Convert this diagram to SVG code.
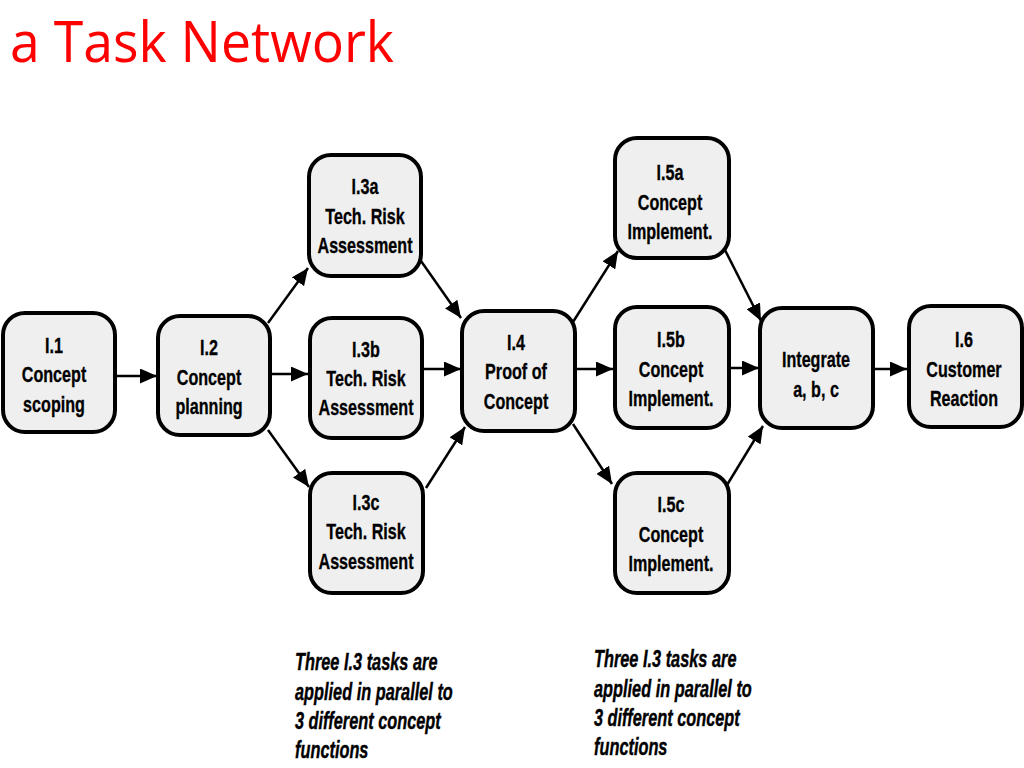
<svg xmlns="http://www.w3.org/2000/svg" width="1024" height="768" viewBox="0 0 1024 768">
<style>
.title{font-family:"Open Sans","Liberation Sans",sans-serif;font-size:56px;fill:#ff0000}
.box{fill:#efefef;stroke:#000;stroke-width:4}
.lbl{font-family:"Liberation Sans","Arial",sans-serif;font-weight:bold;font-size:21.5px;fill:#000;stroke:#000;stroke-width:0.3;text-anchor:middle}
.note{font-family:"Liberation Sans","Arial",sans-serif;font-weight:bold;font-style:italic;font-size:23px;fill:#000;stroke:#000;stroke-width:0.4}
.edge{stroke:#000;stroke-width:2.5;fill:none;marker-end:url(#ah)}
</style>
<defs>
<marker id="ah" viewBox="0 0 17 15" refX="17" refY="7.5" markerWidth="17" markerHeight="15" markerUnits="userSpaceOnUse" orient="auto">
<path d="M0,0 L17,7.5 L0,15 Z" fill="#000"/>
</marker>
</defs>
<rect width="1024" height="768" fill="#fff"/>
<text class="title" x="10" y="62" textLength="384" lengthAdjust="spacingAndGlyphs">a Task Network</text>

<g id="connectors">
<line class="edge" x1="117" y1="376" x2="157" y2="376"/>
<line class="edge" x1="268" y1="323" x2="308" y2="268"/>
<line class="edge" x1="272" y1="374" x2="308" y2="374"/>
<line class="edge" x1="268" y1="430" x2="309" y2="487"/>
<line class="edge" x1="421" y1="261" x2="461" y2="318"/>
<line class="edge" x1="424" y1="369" x2="461" y2="369"/>
<line class="edge" x1="426" y1="488" x2="465" y2="427"/>
<line class="edge" x1="573" y1="322" x2="618" y2="251"/>
<line class="edge" x1="577" y1="369" x2="613" y2="369"/>
<line class="edge" x1="573" y1="424" x2="612" y2="484"/>
<line class="edge" x1="725" y1="250" x2="761" y2="321"/>
<line class="edge" x1="730" y1="368" x2="759" y2="368"/>
<line class="edge" x1="727" y1="485" x2="763" y2="426"/>
<line class="edge" x1="875" y1="369" x2="907" y2="369"/>
</g>

<g id="n_i1">
<rect class="box" x="3" y="313" width="112" height="119" rx="22"/>
<text class="lbl" transform="translate(54 0) scale(0.75 1)"><tspan x="0" y="353">I.1</tspan><tspan x="0" y="382">Concept</tspan><tspan x="0" y="412">scoping</tspan></text>
</g>
<g id="n_i2">
<rect class="box" x="158" y="316" width="112" height="119" rx="22"/>
<text class="lbl" transform="translate(209 0) scale(0.75 1)"><tspan x="0" y="355">I.2</tspan><tspan x="0" y="385">Concept</tspan><tspan x="0" y="414">planning</tspan></text>
</g>
<g id="n_i3a">
<rect class="box" x="309" y="155" width="112" height="121" rx="22"/>
<text class="lbl" transform="translate(365 0) scale(0.75 1)"><tspan x="0" y="194">I.3a</tspan><tspan x="0" y="224">Tech. Risk</tspan><tspan x="0" y="253">Assessment</tspan></text>
</g>
<g id="n_i3b">
<rect class="box" x="310" y="318" width="112" height="120" rx="22"/>
<text class="lbl" transform="translate(366 0) scale(0.75 1)"><tspan x="0" y="357">I.3b</tspan><tspan x="0" y="386">Tech. Risk</tspan><tspan x="0" y="415">Assessment</tspan></text>
</g>
<g id="n_i3c">
<rect class="box" x="310" y="473" width="113" height="120" rx="22"/>
<text class="lbl" transform="translate(366 0) scale(0.75 1)"><tspan x="0" y="510">I.3c</tspan><tspan x="0" y="539">Tech. Risk</tspan><tspan x="0" y="569">Assessment</tspan></text>
</g>
<g id="n_i4">
<rect class="box" x="462" y="311" width="113" height="120" rx="22"/>
<text class="lbl" transform="translate(516 0) scale(0.75 1)"><tspan x="0" y="350">I.4</tspan><tspan x="0" y="379">Proof of</tspan><tspan x="0" y="409">Concept</tspan></text>
</g>
<g id="n_i5a">
<rect class="box" x="615" y="138" width="114" height="120" rx="22"/>
<text class="lbl" transform="translate(670 0) scale(0.75 1)"><tspan x="0" y="180">I.5a</tspan><tspan x="0" y="210">Concept</tspan><tspan x="0" y="239">Implement.</tspan></text>
</g>
<g id="n_i5b">
<rect class="box" x="615" y="307" width="114" height="121" rx="22"/>
<text class="lbl" transform="translate(671 0) scale(0.75 1)"><tspan x="0" y="347">I.5b</tspan><tspan x="0" y="377">Concept</tspan><tspan x="0" y="406">Implement.</tspan></text>
</g>
<g id="n_i5c">
<rect class="box" x="615" y="473" width="114" height="120" rx="22"/>
<text class="lbl" transform="translate(671 0) scale(0.75 1)"><tspan x="0" y="512">I.5c</tspan><tspan x="0" y="542">Concept</tspan><tspan x="0" y="571">Implement.</tspan></text>
</g>
<g id="n_int">
<rect class="box" x="760" y="308" width="113" height="120" rx="22"/>
<text class="lbl" transform="translate(816 0) scale(0.75 1)"><tspan x="0" y="367">Integrate</tspan><tspan x="0" y="397">a, b, c</tspan></text>
</g>
<g id="n_i6">
<rect class="box" x="909" y="306" width="113" height="121" rx="22"/>
<text class="lbl" transform="translate(964 0) scale(0.75 1)"><tspan x="0" y="347">I.6</tspan><tspan x="0" y="377">Customer</tspan><tspan x="0" y="406">Reaction</tspan></text>
</g>

<g id="note1">
<text class="note" transform="translate(295 0) scale(0.71 1)"><tspan x="0" y="670">Three I.3 tasks are</tspan><tspan x="0" y="700">applied in parallel to</tspan><tspan x="0" y="729">3 different concept</tspan><tspan x="0" y="758">functions</tspan></text>
</g>
<g id="note2">
<text class="note" transform="translate(594 0) scale(0.71 1)"><tspan x="0" y="667">Three I.3 tasks are</tspan><tspan x="0" y="697">applied in parallel to</tspan><tspan x="0" y="726">3 different concept</tspan><tspan x="0" y="755">functions</tspan></text>
</g>
</svg>
